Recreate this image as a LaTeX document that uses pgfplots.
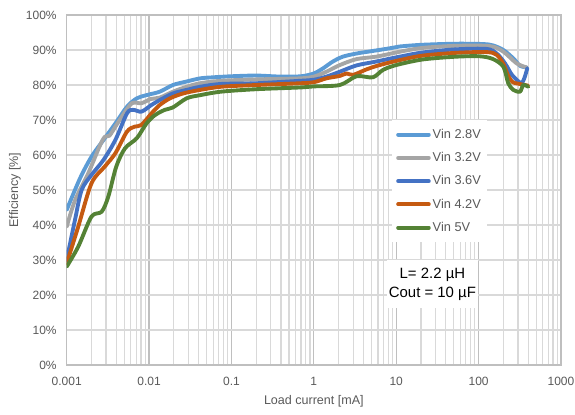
\documentclass[border=0pt]{standalone}
\usepackage{fontspec}
\setmainfont{Liberation Sans}
\usepackage{pgfplots}
\pgfplotsset{compat=1.18}
\definecolor{c28}{HTML}{5B9BD5}
\definecolor{c32}{HTML}{A5A5A5}
\definecolor{c36}{HTML}{4472C4}
\definecolor{c42}{HTML}{C55A11}
\definecolor{c50}{HTML}{548235}
\definecolor{gridc}{HTML}{D9D9D9}
\definecolor{majc}{HTML}{BFBFBF}
\definecolor{txt}{HTML}{595959}
\begin{document}
\begin{tikzpicture}
\begin{axis}[
  scale only axis, width=370.7pt, height=262.5pt,
  xmode=log, xmin=0.001, xmax=1000, ymin=0, ymax=100,
  xtick={0.001,0.01,0.1,1,10,100,1000},
  xticklabels={0.001,0.01,0.1,1,10,100,1000},
  ytick={0,10,20,30,40,50,60,70,80,90,100},
  yticklabels={0\%,10\%,20\%,30\%,40\%,50\%,60\%,70\%,80\%,90\%,100\%},
  minor ytick={0,10,20,30,40,50,60,70,80,90,100},
  xmajorgrids, xminorgrids, yminorgrids, ymajorgrids=false,
  major grid style={draw=majc, line width=0.9pt},
  minor grid style={draw=gridc, line width=0.9pt},
  axis line style={draw=majc, line width=0.9pt},
  major tick length=0pt, minor tick length=0pt,
  tick label style={font=\fontsize{9}{10}\selectfont, text=txt},
  xticklabel style={yshift=-5.5pt},
  yticklabel style={xshift=-4pt},
  xlabel={Load current [mA]},
  ylabel={Efficiency [\%]},
  every axis x label/.style={at={(axis description cs:0.5,0)}, yshift=-27.5pt, anchor=center, font=\fontsize{9.4}{11}\selectfont, text=txt},
  every axis y label/.style={at={(axis description cs:-0.1046,0.5)}, rotate=90, anchor=center, font=\fontsize{9.4}{11}\selectfont, text=txt},
  every axis plot/.append style={line width=2.9pt, smooth, line join=round, line cap=round, no marks},
  legend cell align=left,
  legend image code/.code={\draw[#1] (0pt,0pt) -- (23pt,0pt);},
  legend style={at={(0.658,0.7)}, anchor=north west, draw=none, fill=white,
    font=\fontsize{9.6}{11}\selectfont, text=txt, inner xsep=3pt, inner ysep=5pt,
    row sep=6pt, nodes={inner sep=1.5pt}},
]
\addplot[c28] coordinates {(0.001,44.3) (0.00145,53.3) (0.002,59.5) (0.0028,64.3) (0.0039,69) (0.0054,73.8) (0.0071,76.2) (0.0093,77.1) (0.0135,78.1) (0.0195,80) (0.0286,81) (0.0417,81.9) (0.06,82.2) (0.1,82.5) (0.2,82.7) (0.4,82.4) (0.7,82.5) (1.0,83.3) (1.3,84.8) (1.7,86.7) (2.25,88.1) (3.3,89) (4.8,89.6) (8.4,90.5) (11,91) (21,91.5) (54,91.8) (114,91.7) (150,91.3) (200,90) (264,87.6) (318,85.5) (385,85)};
\addlegendentry{Vin 2.8V}
\addplot[c32] coordinates {(0.001,39.5) (0.00126,47) (0.00183,54.8) (0.0025,62.4) (0.0029,65.2) (0.0033,65.5) (0.004,68.5) (0.0047,71) (0.0062,74.8) (0.0081,74.8) (0.0105,76) (0.0135,76.4) (0.0195,78.1) (0.0286,79.5) (0.0417,80.5) (0.075,81.2) (0.2,81.6) (0.68,81.9) (1.0,82.4) (1.42,83.8) (2.07,85.7) (3.3,87.4) (5.7,88.1) (11,89.5) (21,90.6) (54,91.2) (138,91.1) (200,89.5) (289,86.2) (385,85)};
\addlegendentry{Vin 3.2V}
\addplot[c36] coordinates {(0.001,30) (0.00126,41.4) (0.00152,50) (0.002,54.3) (0.0028,58.6) (0.0039,64.3) (0.0054,71.9) (0.0064,72.9) (0.0081,72.4) (0.0107,74.3) (0.0135,75.7) (0.0195,77.6) (0.0286,78.6) (0.0417,79.5) (0.075,80.3) (0.2,80.5) (0.68,81.2) (1.0,81.5) (1.42,82.4) (2.07,83.8) (3.3,85.6) (5.7,86.7) (11,88.1) (21,89.3) (54,90.2) (126,90.3) (166,89) (209,86.2) (252,83) (290,81.5) (330,80.5) (360,82) (390,84.8)};
\addlegendentry{Vin 3.6V}
\addplot[c42] coordinates {(0.001,29) (0.00138,39.5) (0.002,51.9) (0.0029,56.7) (0.0039,60.5) (0.0054,66.7) (0.0067,68.1) (0.0081,68.6) (0.0107,71.9) (0.0135,74.3) (0.018,76.2) (0.026,77.6) (0.0417,78.6) (0.075,79.5) (0.2,80) (0.68,80.5) (1.0,80.8) (1.42,81.9) (2.07,82.6) (2.5,83.3) (3.0,82.9) (4.4,84.5) (6.3,85.7) (11,87.1) (21,88.4) (54,89.2) (126,89.4) (166,88.6) (200,86) (230,82.5) (260,80.8) (300,80.4) (400,79.8)};
\addlegendentry{Vin 4.2V}
\addplot[c50] coordinates {(0.001,28.1) (0.00138,33.8) (0.002,42.4) (0.00266,43.8) (0.0032,48.1) (0.004,56.7) (0.0051,61.9) (0.0071,64.8) (0.0093,69) (0.0118,71.4) (0.0155,72.9) (0.0195,73.6) (0.0286,76.2) (0.0417,77.1) (0.075,78.1) (0.2,78.8) (0.68,79.3) (1.0,79.6) (2.07,80) (3.3,82.5) (5.2,82.2) (6.9,84.3) (10,85.7) (21,87.3) (54,88.1) (104,88.2) (150,87.4) (200,85.2) (229,80.5) (264,78.6) (318,78.1) (348,80) (400,79.5)};
\addlegendentry{Vin 5V}
\node[fill=white, align=center, font=\fontsize{11.2}{13.75}\selectfont, inner sep=1pt, minimum width=68pt, minimum height=36pt] at (axis cs:27.5,23.1) {L= 2.2 µH\\Cout = 10 µF};
\coordinate (sw) at (rel axis cs:0,0);
\coordinate (ne) at (rel axis cs:1,1);
\end{axis}
\pgfresetboundingbox
\path ([xshift=-50pt,yshift=-36.75pt]sw) rectangle ([xshift=10.5pt,yshift=11.25pt]ne);
\end{tikzpicture}
\end{document}
